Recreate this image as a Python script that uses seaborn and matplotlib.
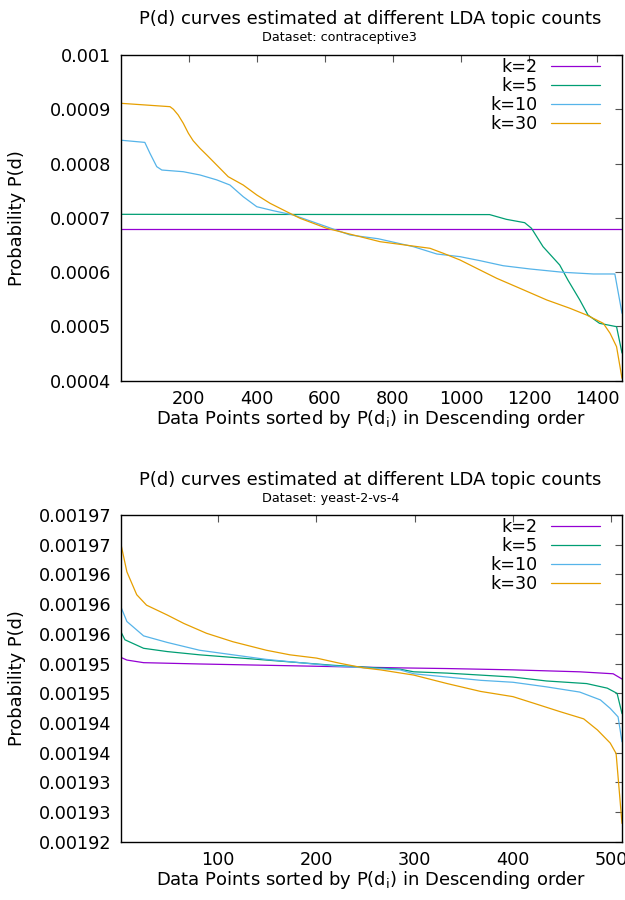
import matplotlib
matplotlib.use("Agg")
import matplotlib.pyplot as plt
import numpy as np
import pandas as pd
import seaborn as sns

# P(d) curves, values
k_labels = ["k=2", "k=5", "k=10", "k=30"]
k_colors = ["#9400d3", "#009e73", "#56b4e9", "#e69f00"]

# --- dataset 1: contraceptive3 (1473 points)
c_k2_x = [1, 1473]
c_k2_y = [0.000680, 0.000680]
c_k5_x = [1, 1084, 1133, 1187, 1207, 1241, 1290, 1314, 1349, 1373, 1407, 1457, 1473]
c_k5_y = [0.0007065, 0.0007060, 0.0006973, 0.0006911, 0.0006808, 0.0006469, 0.0006131,
          0.0005855, 0.0005487, 0.0005210, 0.0005057, 0.0004995, 0.000451]
c_k10_x = [1, 71, 86, 106, 121, 184, 233, 282, 321, 360, 400, 448, 507, 605, 674, 757,
           860, 929, 997, 1056, 1124, 1203, 1300, 1389, 1452, 1473]
c_k10_y = [0.0008430, 0.0008390, 0.0008190, 0.0007943, 0.0007881, 0.0007850, 0.0007790,
           0.0007700, 0.0007605, 0.0007390, 0.0007205, 0.0007132, 0.0007053, 0.0006837,
           0.0006684, 0.0006615, 0.0006469, 0.0006334, 0.0006285, 0.0006211, 0.0006118,
           0.0006058, 0.0005997, 0.0005966, 0.0005966, 0.0005242]
c_k30_x = [1, 145, 155, 169, 184, 199, 213, 233, 253, 282, 316, 360, 400, 439, 488, 527,
           605, 684, 762, 909, 948, 997, 1056, 1105, 1173, 1252, 1320, 1369, 1418, 1438,
           1457, 1473]
c_k30_y = [0.0009110, 0.0009048, 0.0009000, 0.0008895, 0.0008742, 0.0008558, 0.0008421,
           0.0008281, 0.0008158, 0.0007974, 0.0007758, 0.0007605, 0.0007421, 0.0007268,
           0.0007113, 0.0006992, 0.0006808, 0.0006684, 0.0006561, 0.0006439, 0.0006347,
           0.0006224, 0.0006039, 0.0005886, 0.0005702, 0.0005487, 0.0005334, 0.0005210,
           0.0005057, 0.0004873, 0.0004627, 0.0004044]

# --- dataset 2: yeast-2-vs-4 (511 points)
y_k2_x = [1, 7, 24, 81, 183, 285, 333, 400, 468, 502, 511]
y_k2_y = [0.0019482, 0.0019478, 0.0019474, 0.0019472, 0.0019469, 0.0019466, 0.0019465,
          0.0019463, 0.0019460, 0.0019457, 0.0019449]
y_k5_x = [1, 5, 24, 48, 81, 115, 149, 183, 217, 285, 299, 333, 367, 400, 434, 475, 496,
          506, 511]
y_k5_y = [0.0019521, 0.0019509, 0.0019496, 0.0019491, 0.0019486, 0.0019482, 0.0019478,
          0.0019474, 0.0019470, 0.0019464, 0.0019460, 0.0019458, 0.0019455, 0.0019452,
          0.0019446, 0.0019442, 0.0019435, 0.0019427, 0.0019396]
y_k10_x = [1, 7, 24, 48, 81, 115, 149, 183, 217, 251, 285, 299, 333, 367, 400, 434, 468,
           489, 499, 507, 511]
y_k10_y = [0.0019559, 0.0019537, 0.0019515, 0.0019505, 0.0019493, 0.0019486, 0.0019479,
           0.0019474, 0.0019469, 0.0019466, 0.0019463, 0.0019457, 0.0019452, 0.0019447,
           0.0019444, 0.0019437, 0.0019429, 0.0019417, 0.0019404, 0.0019391, 0.0019353]
y_k30_x = [1, 7, 17, 27, 48, 65, 88, 115, 149, 173, 200, 224, 248, 265, 299, 333, 367,
           400, 421, 448, 472, 486, 499, 505, 511]
y_k30_y = [0.0019655, 0.0019613, 0.0019578, 0.0019562, 0.0019547, 0.0019534, 0.0019519,
           0.0019506, 0.0019493, 0.0019486, 0.0019481, 0.0019473, 0.0019466, 0.0019463,
           0.0019455, 0.0019442, 0.0019430, 0.0019422, 0.0019412, 0.0019399, 0.0019388,
           0.0019371, 0.0019351, 0.0019335, 0.0019228]

top_xticks = [200, 400, 600, 800, 1000, 1200, 1400]
top_yticks = [0.0004, 0.0005, 0.0006, 0.0007, 0.0008, 0.0009, 0.001]
top_ytick_labels = ["0.0004", "0.0005", "0.0006", "0.0007", "0.0008", "0.0009", "0.001"]
bot_xticks = [100, 200, 300, 400, 500]
bot_ytick_labels = ["0.00192", "0.00193", "0.00193", "0.00194", "0.00194", "0.00195",
                    "0.00195", "0.00196", "0.00196", "0.00196", "0.00197", "0.00197"]

title = "P(d) curves estimated at different LDA topic counts"
xlabel = "Data Points sorted by P(d$_{\\mathrm{i}}$) in Descending order"
ylabel = "Probability P(d)"


def long_df(series):
    frames = []
    for lab, (xs, ys) in zip(k_labels, series):
        frames.append(pd.DataFrame({"point": xs, "p": ys, "k": lab}))
    return pd.concat(frames, ignore_index=True)


df_top = long_df([(c_k2_x, c_k2_y), (c_k5_x, c_k5_y), (c_k10_x, c_k10_y), (c_k30_x, c_k30_y)])
df_bot = long_df([(y_k2_x, y_k2_y), (y_k5_x, y_k5_y), (y_k10_x, y_k10_y), (y_k30_x, y_k30_y)])

sns.set_style("white")
plt.rcParams["font.family"] = ["DejaVu Sans"]
plt.rcParams["mathtext.fontset"] = "dejavusans"
plt.rcParams["text.color"] = "black"
plt.rcParams["axes.labelcolor"] = "black"

fig = plt.figure(figsize=(6.25, 9), dpi=100)
ax1 = fig.add_axes([121 / 625, 1 - 380.7 / 900, 501 / 625, 325.7 / 900])
ax2 = fig.add_axes([121 / 625, 1 - 841.7 / 900, 501 / 625, 326.7 / 900])

palette = dict(zip(k_labels, k_colors))
for ax, df in [(ax1, df_top), (ax2, df_bot)]:
    sns.lineplot(data=df, x="point", y="p", hue="k", hue_order=k_labels, palette=palette,
                 estimator=None, sort=False, linewidth=0.9, ax=ax)
    handles, labels = ax.get_legend_handles_labels()
    ax.legend(handles, labels, loc="upper right", bbox_to_anchor=(0.956, 0.99),
              frameon=False, markerfirst=False, fontsize=12.6, handlelength=2.8,
              handletextpad=0.75, labelspacing=0.05, borderpad=0, borderaxespad=0,
              labelcolor="black")
    ax.tick_params(direction="in", top=True, right=True, length=5, width=0.8,
                   color="#555555", labelcolor="black", labelsize=12.7, pad=7)
    for s in ax.spines.values():
        s.set_color("black")
        s.set_linewidth(1.0)
    ax.set_xlabel(xlabel, fontsize=13, labelpad=0)
    ax.set_ylabel(ylabel, fontsize=12.9)
    ax.yaxis.set_label_coords(-0.19, 0.5)

ax1.set_xlim(1, 1473)
ax1.set_ylim(0.0004, 0.001)
ax1.set_xticks(top_xticks)
ax1.set_yticks(top_yticks)
ax1.set_yticklabels(top_ytick_labels)

ax2.set_xlim(1, 511)
ax2.set_ylim(0.00192, 0.00197)
ax2.set_xticks(bot_xticks)
ax2.set_yticks(np.linspace(0.00192, 0.00197, len(bot_ytick_labels)))
ax2.set_yticklabels(bot_ytick_labels)

fig.text(370.5 / 625, 1 - 18.5 / 900, title, ha="center", va="center", fontsize=13)
fig.text(262 / 625, 1 - 37 / 900, "Dataset: contraceptive3", ha="left", va="center", fontsize=9.2)
fig.text(370.5 / 625, 1 - 480 / 900, title, ha="center", va="center", fontsize=13)
fig.text(262 / 625, 1 - 499 / 900, "Dataset: yeast-2-vs-4", ha="left", va="center", fontsize=9.2)

fig.savefig("out.png", dpi=100)
